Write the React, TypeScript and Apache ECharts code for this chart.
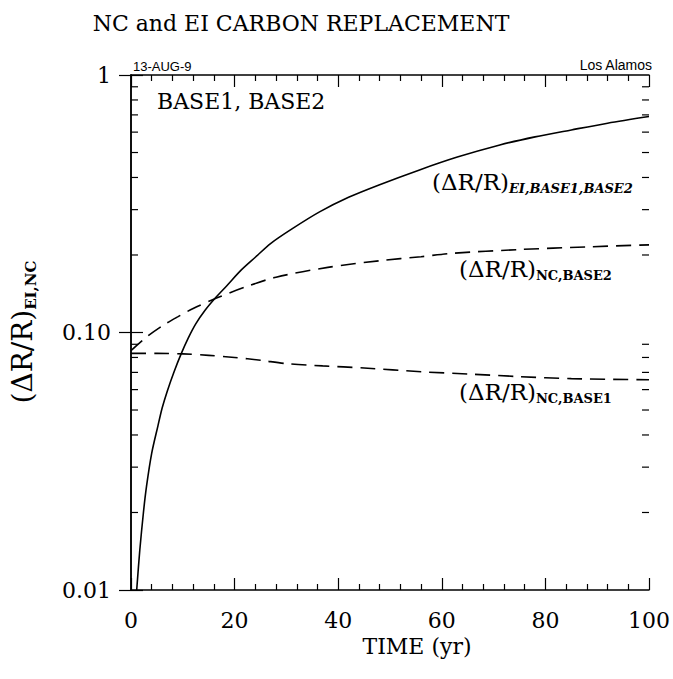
import React, { useEffect, useRef } from "react";
import * as echarts from "echarts";

// Time axis (years) and fractional change curves
const eiYears = [1.1, 1.7, 2.4, 3, 4, 5.2, 6, 7, 8.3, 9.7, 11, 12.5, 14.3, 16.4, 18.5, 21.3, 24, 27, 31, 36.4, 42, 48, 55.7, 63, 71.2, 78, 85, 92, 100];
const eiValues = [0.010, 0.0143, 0.020, 0.0253, 0.034, 0.0434, 0.0508, 0.0592, 0.0703, 0.0828, 0.0947, 0.108, 0.122, 0.137, 0.152, 0.175, 0.196, 0.222, 0.252, 0.294, 0.335, 0.375, 0.428, 0.48, 0.535, 0.575, 0.612, 0.65, 0.69];

const ncBase2Years = [0, 3, 6, 9, 12, 16.5, 22, 28, 38, 48, 56, 62, 75, 88, 100];
const ncBase2Values = [0.085, 0.096, 0.106, 0.115, 0.124, 0.136, 0.150, 0.164, 0.179, 0.190, 0.197, 0.203, 0.210, 0.215, 0.219];

const ncBase1Years = [0, 5, 10, 15, 20, 25, 30, 37, 45, 56, 65, 75, 85, 100];
const ncBase1Values = [0.083, 0.083, 0.0826, 0.0815, 0.080, 0.078, 0.0757, 0.0742, 0.0728, 0.0704, 0.069, 0.0674, 0.0662, 0.0655];

// Log-axis minor tick positions (2..9 within each decade)
const yMinorTicks = [0.02, 0.03, 0.04, 0.05, 0.06, 0.07, 0.08, 0.09, 0.2, 0.3, 0.4, 0.5, 0.6, 0.7, 0.8, 0.9];

const SERIF = "'DejaVu Serif', 'Liberation Serif', serif";
const SANS = "'Liberation Sans', Arial, sans-serif";

const pairs = (xs: number[], ys: number[]) => xs.map((x, i) => [x, ys[i]]);

const yLabel = (v: number) => {
  if (v >= 0.99) return "1";
  if (v >= 0.099) return "0.10";
  return "0.01";
};

const subRich = (italic: boolean) => ({
  m: { fontFamily: SERIF, fontSize: 23, lineHeight: 26, fill: "#000" },
  s: {
    fontFamily: SERIF,
    fontSize: 13,
    fontWeight: "bold",
    fontStyle: italic ? "italic" : "normal",
    lineHeight: 12,
    verticalAlign: "bottom",
    fill: "#000",
  },
});

const plainText = (x: number, y: number, text: string, size: number, family: string, align: string) => ({
  type: "text",
  x,
  y,
  style: { text, fontFamily: family, fontSize: size, fill: "#000", align, verticalAlign: "middle" },
});

export default function App() {
  const ref = useRef<HTMLDivElement>(null);

  useEffect(() => {
    document.body.style.margin = "0";
    if (!ref.current) return;
    const chart = echarts.init(ref.current, null, { renderer: "svg" });

    const axisLine = { show: true, lineStyle: { color: "#000", width: 1.5 } };
    const xAxisBase = {
      type: "value",
      min: 0,
      max: 100,
      interval: 20,
      axisLine,
      axisTick: { show: true, inside: true, length: 12, lineStyle: { color: "#000", width: 1.2 } },
      minorTick: { show: true, splitNumber: 5, length: 6, lineStyle: { color: "#000", width: 1.2 } },
      splitLine: { show: false },
      minorSplitLine: { show: false },
    };
    const yAxisBase = {
      type: "log",
      logBase: 10,
      min: 0.01,
      max: 1,
      axisLine,
      axisTick: { show: true, inside: true, length: 12, lineStyle: { color: "#000", width: 1.2 } },
      splitLine: { show: false },
    };

    chart.setOption({
      animation: false,
      backgroundColor: "#fff",
      grid: { left: 131, right: 24, top: 75, bottom: 89, outerBoundsMode: "none", containLabel: false },
      xAxis: [
        {
          ...xAxisBase,
          position: "bottom",
          axisLabel: { show: true, margin: 19, fontFamily: SERIF, fontSize: 22, color: "#000" },
        },
        {
          ...xAxisBase,
          position: "top",
          axisLabel: { show: false },
        },
      ],
      yAxis: [
        {
          ...yAxisBase,
          position: "left",
          axisLabel: { show: true, margin: 20, fontFamily: SERIF, fontSize: 22, color: "#000", formatter: yLabel },
        },
        {
          ...yAxisBase,
          position: "right",
          axisLabel: { show: false },
        },
      ],
      series: [
        {
          name: "EI",
          type: "line",
          data: pairs(eiYears, eiValues),
          showSymbol: false,
          smooth: 0.3,
          lineStyle: { color: "#000", width: 1.6, type: "solid" },
          silent: true,
        },
        {
          name: "NC BASE2",
          type: "line",
          data: pairs(ncBase2Years, ncBase2Values),
          showSymbol: false,
          smooth: 0.3,
          lineStyle: { color: "#000", width: 1.6, type: [15, 8] },
          silent: true,
        },
        {
          name: "NC BASE1",
          type: "line",
          data: pairs(ncBase1Years, ncBase1Values),
          showSymbol: false,
          smooth: 0.3,
          lineStyle: { color: "#000", width: 1.6, type: [15, 8] },
          silent: true,
        },
        {
          name: "minor ticks",
          type: "custom",
          silent: true,
          data: yMinorTicks.map((v) => [0, v]),
          renderItem: (_params: any, api: any) => {
            const v = api.value(1);
            const L = api.coord([0, v]);
            const R = api.coord([100, v]);
            const st = { stroke: "#000", lineWidth: 1.2 };
            return {
              type: "group",
              children: [
                { type: "line", shape: { x1: L[0], y1: L[1], x2: L[0] + 7, y2: L[1] }, style: st },
                { type: "line", shape: { x1: R[0] - 7, y1: R[1], x2: R[0], y2: R[1] }, style: st },
              ],
            };
          },
        },
      ],
      graphic: [
        plainText(301, 23, "NC and EI CARBON REPLACEMENT", 22, SERIF, "center"),
        plainText(133, 66, "13-AUG-9", 13, SANS, "left"),
        plainText(652, 65, "Los Alamos", 14, SANS, "right"),
        plainText(157, 101, "BASE1, BASE2", 22, SERIF, "left"),
        {
          type: "text",
          x: 432,
          y: 169,
          style: { text: "{m|(ΔR/R)}{s|EI,BASE1,BASE2}", rich: subRich(true), align: "left", verticalAlign: "top" },
        },
        {
          type: "text",
          x: 459,
          y: 256,
          style: { text: "{m|(ΔR/R)}{s|NC,BASE2}", rich: subRich(false), align: "left", verticalAlign: "top" },
        },
        {
          type: "text",
          x: 459,
          y: 379,
          style: { text: "{m|(ΔR/R)}{s|NC,BASE1}", rich: subRich(false), align: "left", verticalAlign: "top" },
        },
        plainText(417, 646, "TIME (yr)", 22, SERIF, "center"),
        {
          type: "text",
          x: 22,
          y: 332,
          rotation: Math.PI / 2,
          style: {
            text: "{m|(ΔR/R)}{s|EI,NC}",
            rich: {
              m: { fontFamily: SERIF, fontSize: 28, lineHeight: 32, fill: "#000" },
              s: { fontFamily: SERIF, fontSize: 15, fontWeight: "bold", lineHeight: 14, verticalAlign: "bottom", fill: "#000" },
            },
            align: "center",
            verticalAlign: "middle",
          },
        },
      ],
    });

    return () => chart.dispose();
  }, []);

  return <div ref={ref} style={{ width: 673, height: 679 }} />;
}
